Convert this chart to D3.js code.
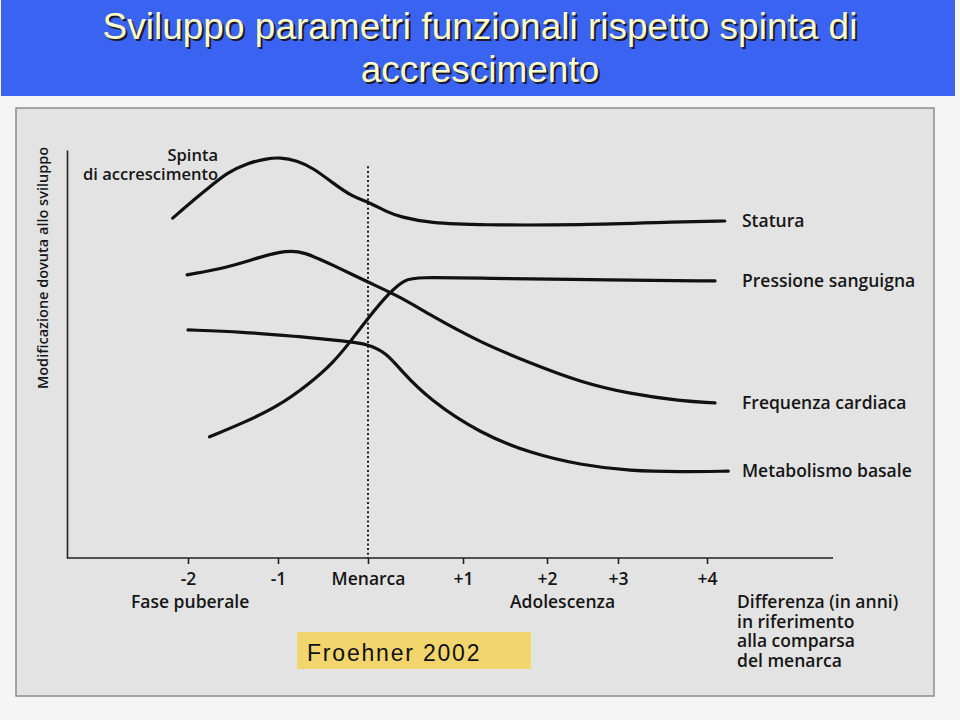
<!DOCTYPE html>
<html><head><meta charset="utf-8">
<script src="https://cdn.jsdelivr.net/npm/d3@7/dist/d3.min.js"></script>
<style>body{margin:0;background:#fff}</style></head>
<body><svg id="c" width="960" height="720"></svg>
<script>
// ---------- data ----------
const titleLines = ["Sviluppo parametri funzionali rispetto spinta di", "accrescimento"];
const xTicks = [-2, -1, 0, 1, 2, 3, 4];
const xTickLabels = ["-2", "-1", "Menarca", "+1", "+2", "+3", "+4"];
const seriesNames = ["Statura", "Pressione sanguigna", "Frequenza cardiaca", "Metabolismo basale"];
const statura = [[-2.17,83.3],[-1.94,87.7],[-1.76,90.9],[-1.57,94.4],[-1.34,96.8],[-1.12,97.9],[-0.98,98.2],[-0.79,97.4],[-0.61,95.6],[-0.39,91.9],[-0.17,88.5],[0,87.3],[0.2,84.8],[0.34,83.6],[0.65,82.1],[1.2,81.6],[2.47,81.6],[3.7,82.4],[4.2,82.6]];
const pressione = [[-1.76,29.7],[-1.39,33.1],[-1.01,37.0],[-0.64,42.9],[-0.39,47.8],[-0.2,52.9],[0,58.8],[0.23,65.2],[0.39,68.3],[0.52,68.8],[1.2,68.6],[2.93,68.1],[4.09,67.9]];
const frequenza = [[-2.01,69.4],[-1.57,71.1],[-1.2,73.8],[-0.9,75.4],[-0.72,75.1],[-0.39,71.8],[0,67.6],[0.34,64.0],[0.65,59.6],[1.2,52.9],[1.8,47.8],[2.47,43.1],[3.14,40.2],[3.7,38.5],[4.09,38.0]];
const metabolismo = [[-2.0,55.9],[-1.39,55.4],[-0.83,54.4],[-0.23,53.1],[-0.01,52.5],[0.2,50.2],[0.34,46.1],[0.65,38.7],[1.2,30.6],[1.8,25.7],[2.47,22.8],[3.14,21.3],[3.7,21.1],[4.24,21.3]];
const seriesData = [statura, pressione, frequenza, metabolismo];
const yLabel = "Modificazione dovuta allo sviluppo";
const spurtLabel = ["Spinta", "di accrescimento"];
const phaseLabels = ["Fase puberale", "Adolescenza"];
const xTitleLines = ["Differenza (in anni)", "in riferimento", "alla comparsa", "del menarca"];
const sourceLabel = "Froehner 2002";

// ---------- layout ----------
const svg = d3.select("#c");
const FONT = "'Open Sans', sans-serif";
const INK = "#161616";
const axisX0 = 67, axisX1 = 833, axisY0 = 558, axisYTop = 150;
const xRange = [188, 278, 368, 463, 547, 618, 707];

svg.append("rect").attr("width", 960).attr("height", 720).attr("fill", "#f5f5f5");
// title bar
svg.append("rect").attr("x", 1).attr("y", 0).attr("width", 954).attr("height", 96).attr("fill", "#3a63f2");
const tY = [39, 82];
titleLines.forEach((t, i) => {
  svg.append("text").attr("x", 480).attr("y", tY[i]).attr("text-anchor", "middle")
    .attr("font-family", "'Liberation Sans', Arial, sans-serif").attr("font-size", 37)
    .attr("fill", "#1a1a2a").attr("transform", "translate(2,2)").text(t);
  svg.append("text").attr("x", 480).attr("y", tY[i]).attr("text-anchor", "middle")
    .attr("font-family", "'Liberation Sans', Arial, sans-serif").attr("font-size", 37)
    .attr("fill", "#ffffcc").text(t);
});

// scanned panel
svg.append("rect").attr("x", 16).attr("y", 108).attr("width", 918).attr("height", 588)
  .attr("fill", "#e3e3e3").attr("stroke", "#8c8c8c").attr("stroke-width", 1.5);

const x = d3.scaleLinear().domain(xTicks).range(xRange);
const y = d3.scaleLinear().domain([0, 100]).range([axisY0, axisYTop]);

// dotted menarca line
svg.append("line").attr("x1", x(0)).attr("x2", x(0)).attr("y1", y(96)).attr("y2", axisY0)
  .attr("stroke", "#222").attr("stroke-width", 2).attr("stroke-dasharray", "2,2.6");

// y axis
const gy = svg.append("g").attr("transform", `translate(${axisX0},0)`)
  .call(d3.axisLeft(y).tickValues([]).tickSizeOuter(0));
gy.select(".domain").attr("stroke", "#222").attr("stroke-width", 1.6);

// x axis
svg.append("line").attr("x1", axisX0).attr("x2", axisX1).attr("y1", axisY0).attr("y2", axisY0)
  .attr("stroke", "#222").attr("stroke-width", 1.6);
const gx = svg.append("g").attr("transform", `translate(0,${axisY0})`)
  .call(d3.axisBottom(x).tickValues(xTicks).tickFormat((d, i) => xTickLabels[i]).tickSize(6).tickPadding(9));
gx.select(".domain").remove();
gx.selectAll(".tick line").attr("stroke", "#222").attr("stroke-width", 1.6);
gx.selectAll(".tick text").attr("font-family", FONT).attr("font-size", 17.5).attr("font-weight", 600).attr("fill", INK);

// curves
const line = d3.line().x(d => x(d[0])).y(d => y(d[1])).curve(d3.curveBasis);
svg.selectAll("path.curve").data(seriesData).join("path").attr("class", "curve")
  .attr("d", line).attr("fill", "none").attr("stroke", "#111").attr("stroke-width", 3.2)
  .attr("stroke-linecap", "round");

// series labels
svg.selectAll("text.sl").data(seriesData).join("text").attr("class", "sl")
  .attr("x", 742).attr("y", d => y(d[d.length - 1][1]) + 6)
  .attr("font-family", FONT).attr("font-size", 17.5).attr("font-weight", 600).attr("fill", INK)
  .text((d, i) => seriesNames[i]);

// spurt label
spurtLabel.forEach((t, i) => {
  svg.append("text").attr("x", 218).attr("y", 161 + i * 19).attr("text-anchor", "end")
    .attr("font-family", FONT).attr("font-size", 16.5).attr("font-weight", 600).attr("fill", INK).text(t);
});

// y label
svg.append("text").attr("transform", "translate(48,268) rotate(-90)").attr("text-anchor", "middle")
  .attr("font-family", FONT).attr("font-size", 14.5).attr("font-weight", 600).attr("fill", INK).text(yLabel);

// phase labels
[131, 510].forEach((px, i) => {
  svg.append("text").attr("x", px).attr("y", 608).attr("font-family", FONT).attr("font-size", 17.5)
    .attr("font-weight", 600).attr("fill", INK).text(phaseLabels[i]);
});
xTitleLines.forEach((t, i) => {
  svg.append("text").attr("x", 737).attr("y", 608 + i * 19.7).attr("font-family", FONT).attr("font-size", 17.5)
    .attr("font-weight", 600).attr("fill", INK).text(t);
});

// source box
svg.append("rect").attr("x", 297).attr("y", 632).attr("width", 234).attr("height", 37).attr("fill", "#f2d56c");
svg.append("text").attr("x", 307).attr("y", 661).attr("font-family", "'Liberation Sans', Arial, sans-serif")
  .attr("font-size", 23).attr("letter-spacing", 1.8).attr("fill", "#111").text(sourceLabel);
</script></body></html>
